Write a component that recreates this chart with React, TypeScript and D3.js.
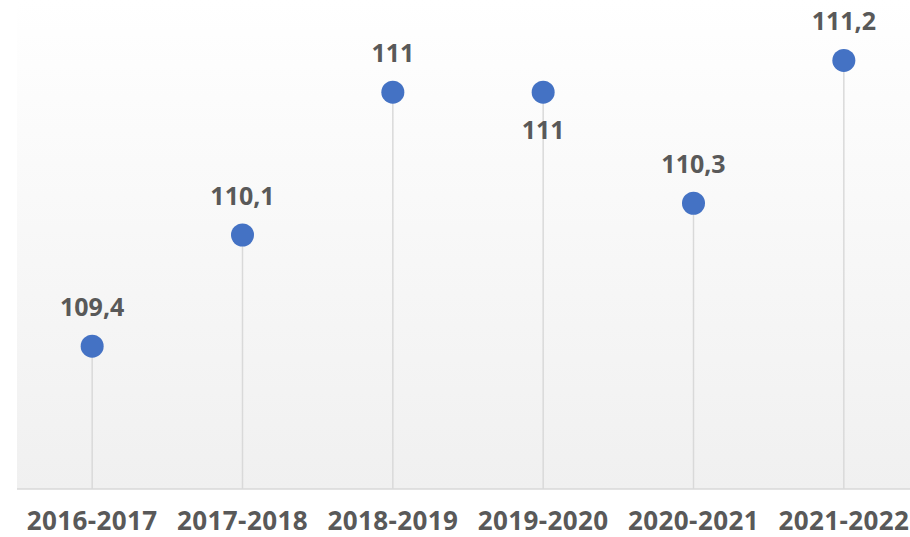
import { useEffect, useRef } from "react";
import * as d3 from "d3";

const categories = ["2016-2017", "2017-2018", "2018-2019", "2019-2020", "2020-2021", "2021-2022"];
const values = [109.4, 110.1, 111, 111, 110.3, 111.2];
const valueLabels = ["109,4", "110,1", "111", "111", "110,3", "111,2"];
// label placement: true = below the dot
const labelBelow = [false, false, false, true, false, false];

const WIDTH = 910;
const HEIGHT = 537;
const FONT = "'Open Sans', Calibri, sans-serif";

export default function App() {
  const svgRef = useRef<SVGSVGElement | null>(null);

  useEffect(() => {
    const svgEl = svgRef.current;
    if (!svgEl) return;
    const svg = d3.select(svgEl);
    svg.selectAll("*").remove();

    const plot = { left: 17, right: 919, top: 0, bottom: 489 };

    const x = d3.scaleBand<string>().domain(categories).range([plot.left, plot.right]);
    const y = d3.scaleLinear().domain([108.5, 111.5]).range([489, 12.75]);

    const defs = svg.append("defs");
    const grad = defs
      .append("linearGradient")
      .attr("id", "bg")
      .attr("x1", 0)
      .attr("y1", 0)
      .attr("x2", 0)
      .attr("y2", 1);
    grad.append("stop").attr("offset", "0%").attr("stop-color", "#ffffff");
    grad.append("stop").attr("offset", "100%").attr("stop-color", "#f0f0f0");

    svg
      .append("rect")
      .attr("x", plot.left)
      .attr("y", plot.top)
      .attr("width", plot.right - plot.left)
      .attr("height", plot.bottom - plot.top)
      .attr("fill", "url(#bg)");

    svg
      .append("line")
      .attr("x1", plot.left)
      .attr("x2", plot.right)
      .attr("y1", plot.bottom)
      .attr("y2", plot.bottom)
      .attr("stroke", "#d9d9d9")
      .attr("stroke-width", 1.5);

    const cx = (c: string) => (x(c) ?? 0) + x.bandwidth() / 2;

    const pts = categories.map((c, i) => ({ c, v: values[i], label: valueLabels[i], below: labelBelow[i] }));

    svg
      .selectAll(".stem")
      .data(pts)
      .enter()
      .append("line")
      .attr("x1", (d) => cx(d.c))
      .attr("x2", (d) => cx(d.c))
      .attr("y1", (d) => y(d.v))
      .attr("y2", plot.bottom)
      .attr("stroke", "#d9d9d9")
      .attr("stroke-width", 1.5);

    svg
      .selectAll(".dot")
      .data(pts)
      .enter()
      .append("circle")
      .attr("cx", (d) => cx(d.c))
      .attr("cy", (d) => y(d.v))
      .attr("r", 11.5)
      .attr("fill", "#4472c4");

    svg
      .selectAll(".val")
      .data(pts)
      .enter()
      .append("text")
      .attr("x", (d) => cx(d.c))
      .attr("y", (d) => (d.below ? y(d.v) + 47 : y(d.v) - 30))
      .attr("text-anchor", "middle")
      .attr("font-family", FONT)
      .attr("font-weight", "bold")
      .attr("font-size", 25)
      .attr("fill", "#595959")
      .text((d) => d.label);

    svg
      .selectAll(".cat")
      .data(categories)
      .enter()
      .append("text")
      .attr("x", (d) => cx(d))
      .attr("y", 530)
      .attr("text-anchor", "middle")
      .attr("font-family", FONT)
      .attr("font-weight", "bold")
      .attr("font-size", 26)
      .attr("letter-spacing", 0.4)
      .attr("fill", "#595959")
      .text((d) => d);
  }, []);

  return (
    <svg
      ref={svgRef}
      width={WIDTH}
      height={HEIGHT}
      style={{ position: "absolute", left: 0, top: 0, background: "#ffffff" }}
    />
  );
}
